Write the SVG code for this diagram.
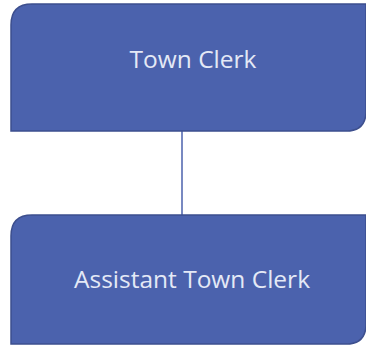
<svg xmlns="http://www.w3.org/2000/svg" width="366" height="345" viewBox="0 0 366 345">
<style>
.box{fill:#4b62ad;stroke:#3d4f8e;stroke-width:1.5}
.lbl{font-family:"Open Sans","Liberation Sans",sans-serif;font-size:24.5px;fill:#e4e9f6;text-anchor:middle}
.conn{stroke:#4b62ad;stroke-width:1.5;fill:none}
</style>
<rect width="366" height="345" fill="#ffffff"/>
<g id="connectors">
<line class="conn" x1="182" y1="131" x2="182" y2="215"/>
</g>
<g id="town-clerk">
<path class="box" d="M11,25 Q11,4 32,4 H366 V111 Q366,131 346,131 H11 Z"/>
<text class="lbl" x="193" y="68">Town Clerk</text>
</g>
<g id="assistant-town-clerk">
<path class="box" d="M11,236 Q11,215 32,215 H366 V324 Q366,344 346,344 H11 Z"/>
<text class="lbl" x="192" y="288">Assistant Town Clerk</text>
</g>
</svg>
